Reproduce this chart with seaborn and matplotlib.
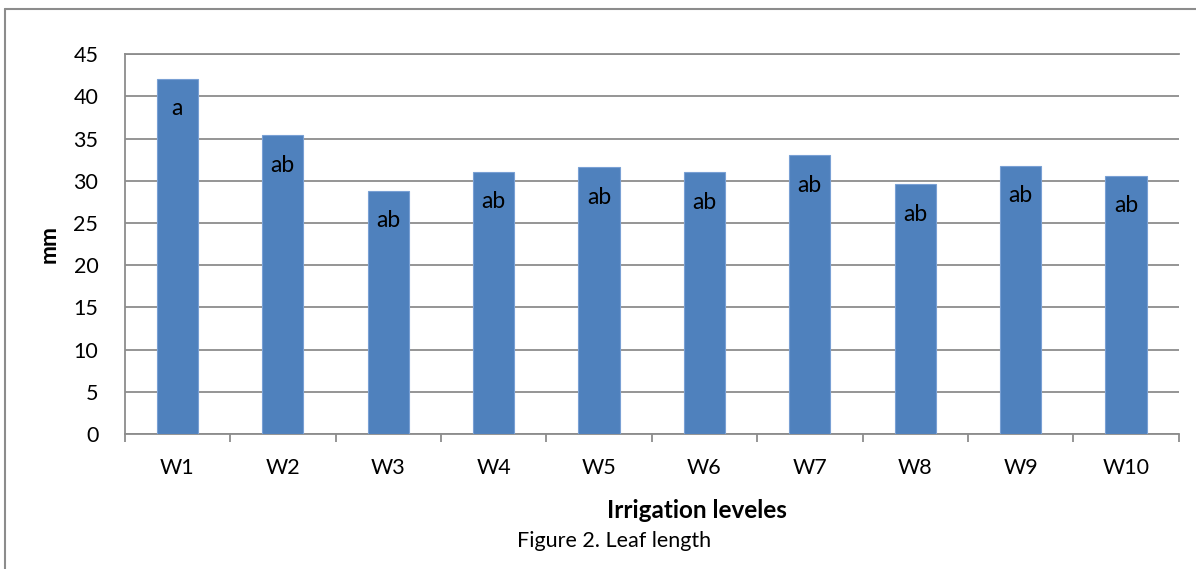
import numpy as np
import pandas as pd
import matplotlib
matplotlib.use("Agg")
import matplotlib.pyplot as plt
from matplotlib.lines import Line2D
import seaborn as sns

# Leaf length by irrigation level, with significance letters
categories = ["W1", "W2", "W3", "W4", "W5", "W6", "W7", "W8", "W9", "W10"]
leaf_length = [42.1, 35.4, 28.8, 31.1, 31.6, 31.0, 33.05, 29.6, 31.8, 30.6]
letters = ["a", "ab", "ab", "ab", "ab", "ab", "ab", "ab", "ab", "ab"]
y_ticks = [0, 5, 10, 15, 20, 25, 30, 35, 40, 45]

sns.set_theme(style="white")
plt.rcParams["font.family"] = ["Lato", "DejaVu Sans"]

W, H = 1196, 569
fig = plt.figure(figsize=(W / 100, H / 100), dpi=100)
ax = fig.add_axes([124.7 / W, 1 - 434 / H, (1178.7 - 124.7) / W, (434 - 54.3) / H])

df = pd.DataFrame({"level": categories, "length": leaf_length})
sns.barplot(data=df, x="level", y="length", color="#4F81BD", width=0.39,
            edgecolor="#79A0D4", linewidth=0.8, saturation=1, ax=ax, zorder=3)

grid_c = "#8C8C8C"
ax.set_ylim(0, 45)
ax.set_xlim(-0.5, len(categories) - 0.5)
ax.set_yticks(y_ticks)
ax.yaxis.grid(True, color=grid_c, linewidth=1.3, zorder=0)
ax.set_axisbelow(True)

for side in ["left", "bottom", "top"]:
    ax.spines[side].set_visible(True)
    ax.spines[side].set_color(grid_c)
    ax.spines[side].set_linewidth(1.3)
ax.spines["right"].set_visible(False)

# tick marks sit on category boundaries, labels at centres
ax.set_xticks(np.arange(-0.5, len(categories), 1), minor=True)
ax.tick_params(axis="x", which="major", length=0, pad=17, labelsize=15.5, labelcolor="black")
ax.tick_params(axis="x", which="minor", length=6, width=1.3, color=grid_c, direction="out", bottom=True)
ax.tick_params(axis="y", which="major", length=0, pad=19, labelsize=15.5, labelcolor="black", left=True)

ax.set_xlabel("")
ax.set_ylabel("mm", fontsize=16.5, fontweight="bold", color="black")
ax.yaxis.set_label_coords(-0.0614, 0.5)

for i, (v, t) in enumerate(zip(leaf_length, letters)):
    ax.annotate(t, xy=(i, v), xytext=(0, -30), textcoords="offset pixels",
                ha="center", va="center", fontsize=16.5, color="black", zorder=4)

fig.text(697 / W, 1 - 510 / H, "Irrigation leveles", ha="center", va="center",
         fontsize=17.5, fontweight="bold", color="black")
fig.text(614 / W, 1 - 541 / H, "Figure 2. Leaf length", ha="center", va="center",
         fontsize=15.5, color="black")

# outer frame: left and top edges
fig.add_artist(Line2D([5 / W, 5 / W], [0, 1 - 9 / H], transform=fig.transFigure,
                      color="#8C8C8C", linewidth=1.5))
fig.add_artist(Line2D([5 / W, 1], [1 - 9 / H, 1 - 9 / H], transform=fig.transFigure,
                      color="#8C8C8C", linewidth=1.5))

fig.savefig("out.png", dpi=100)
